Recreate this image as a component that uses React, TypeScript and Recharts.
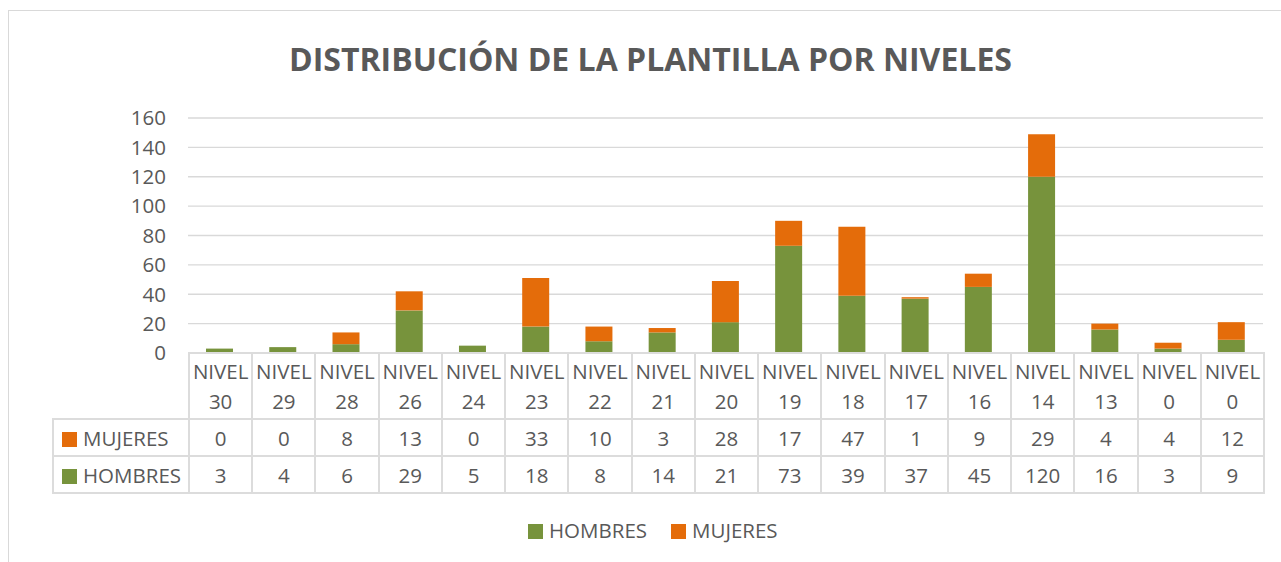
import React from 'react';
import { BarChart, Bar, XAxis, YAxis, CartesianGrid } from 'recharts';

const NIVELES = ['30', '29', '28', '26', '24', '23', '22', '21', '20', '19', '18', '17', '16', '14', '13', '0', '0'];
const HOMBRES = [3, 4, 6, 29, 5, 18, 8, 14, 21, 73, 39, 37, 45, 120, 16, 3, 9];
const MUJERES = [0, 0, 8, 13, 0, 33, 10, 3, 28, 17, 47, 1, 9, 29, 4, 4, 12];
const Y_TICKS = [0, 20, 40, 60, 80, 100, 120, 140, 160];

const GREEN = '#77933C';
const ORANGE = '#E46C0A';
const TEXT = '#595959';
const LINE = '#d9d9d9';
const FONT = '"Open Sans", sans-serif';
const FS = 20.5;

const PLOT_LEFT = 188;
const PLOT_RIGHT = 1263;
const COL_W = (PLOT_RIGHT - PLOT_LEFT) / NIVELES.length;

const data = NIVELES.map((n, i) => ({
  key: `n${i}`,
  nivel: `NIVEL ${n}`,
  hombres: HOMBRES[i],
  mujeres: MUJERES[i],
}));

const cell: React.CSSProperties = {
  border: `2px solid #dcdcdc`,
  textAlign: 'center',
  padding: 0,
  fontSize: FS,
  color: TEXT,
};

function Swatch({ color }: { color: string }) {
  return <span style={{ display: 'inline-block', width: 15, height: 15, background: color, marginRight: 6, verticalAlign: -1 }} />;
}

export default function App() {
  return (
    <div style={{ position: 'absolute', left: 0, top: 0, width: 1281, height: 562, background: '#fff', fontFamily: FONT, overflow: 'hidden' }}>
      {/* chart frame */}
      <div style={{ position: 'absolute', left: 8, top: 10, width: 1300, height: 600, border: `1px solid ${LINE}` }} />

      <div style={{ position: 'absolute', left: 0, top: 37, width: 1301, textAlign: 'center', fontSize: 32, fontWeight: 700, color: TEXT }}>
        DISTRIBUCIÓN DE LA PLANTILLA POR NIVELES
      </div>

      <div style={{ position: 'absolute', left: 0, top: 100 }}>
        <BarChart
          width={1281}
          height={275}
          data={data}
          margin={{ top: 18, right: 1281 - PLOT_RIGHT, left: PLOT_LEFT - 70, bottom: 22 }}
          barCategoryGap="28.5%"
        >
          <CartesianGrid vertical={false} stroke={LINE} strokeWidth={1.3} />
          <XAxis dataKey="key" hide />
          <YAxis
            width={70}
            domain={[0, 160]}
            ticks={Y_TICKS}
            interval={0}
            axisLine={false}
            tickLine={false}
            tick={{ fontSize: FS, fill: TEXT, fontFamily: FONT }}
            tickMargin={16}
          />
          <Bar dataKey="hombres" stackId="a" fill={GREEN} isAnimationActive={false} />
          <Bar dataKey="mujeres" stackId="a" fill={ORANGE} isAnimationActive={false} />
        </BarChart>
      </div>

      {/* data table */}
      <table
        style={{
          position: 'absolute',
          left: 52,
          top: 352,
          borderCollapse: 'collapse',
          tableLayout: 'fixed',
          width: PLOT_RIGHT - 52,
          fontFamily: FONT,
        }}
      >
        <colgroup>
          <col style={{ width: PLOT_LEFT - 52 }} />
          {NIVELES.map((_, i) => <col key={i} style={{ width: COL_W }} />)}
        </colgroup>
        <tbody>
          <tr style={{ height: 66 }}>
            <td style={{ border: 'none' }} />
            {data.map(d => (
              <td key={d.key} style={{ ...cell, lineHeight: '30px', whiteSpace: 'nowrap', overflow: 'visible' }}>
                {d.nivel.split(' ').map((w, j) => <div key={j}>{w}</div>)}
              </td>
            ))}
          </tr>
          <tr style={{ height: 37 }}>
            <td style={{ ...cell, textAlign: 'left', paddingLeft: 8, whiteSpace: 'nowrap' }}>
              <Swatch color={ORANGE} />MUJERES
            </td>
            {MUJERES.map((v, i) => <td key={i} style={cell}>{v}</td>)}
          </tr>
          <tr style={{ height: 37 }}>
            <td style={{ ...cell, textAlign: 'left', paddingLeft: 8, whiteSpace: 'nowrap' }}>
              <Swatch color={GREEN} />HOMBRES
            </td>
            {HOMBRES.map((v, i) => <td key={i} style={cell}>{v}</td>)}
          </tr>
        </tbody>
      </table>

      {/* legend */}
      <div style={{ position: 'absolute', left: 528, top: 516, fontSize: FS, color: TEXT, whiteSpace: 'nowrap' }}>
        <Swatch color={GREEN} />HOMBRES
        <span style={{ display: 'inline-block', width: 24 }} />
        <Swatch color={ORANGE} />MUJERES
      </div>
    </div>
  );
}
